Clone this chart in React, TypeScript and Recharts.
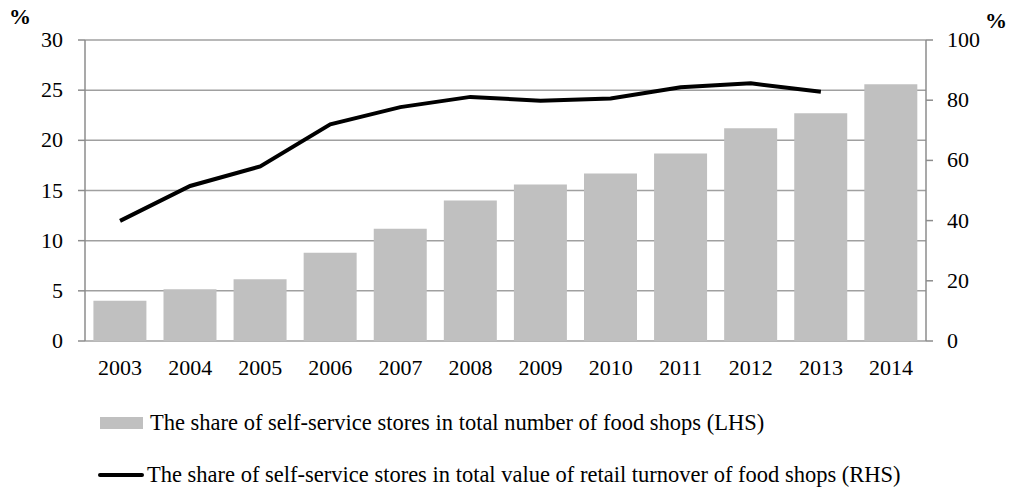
import React from 'react';
import { ComposedChart, Bar, Line, XAxis, YAxis, CartesianGrid } from 'recharts';

const years = ['2003', '2004', '2005', '2006', '2007', '2008', '2009', '2010', '2011', '2012', '2013', '2014'];
const shareNumber = [4.0, 5.15, 6.15, 8.8, 11.2, 14.0, 15.6, 16.7, 18.7, 21.2, 22.7, 25.6];
const shareTurnover: (number | null)[] = [39.9, 51.5, 58.0, 72.0, 77.7, 81.1, 79.8, 80.6, 84.3, 85.6, 82.8, null];
const leftTicks = [0, 5, 10, 15, 20, 25, 30];
const rightTicks = [0, 20, 40, 60, 80, 100];
const boundaryTicks = [0, 1, 2, 3, 4, 5, 6, 7, 8, 9, 10, 11, 12];
const legendBar = 'The share of self-service stores in total number of food shops (LHS)';
const legendLine = 'The share of self-service stores in total value of retail turnover of food shops (RHS)';

const data = years.map((y, i) => ({ year: y, bar: shareNumber[i], line: shareTurnover[i] }));

const FONT = "'Liberation Serif', 'Times New Roman', serif";
const AXIS = '#8c8c8c';
const FS = 22;

const makeTick = (anchor: 'start' | 'middle' | 'end', dy: number) => (props: any) => {
  const { x, y, payload } = props;
  return (
    <text
      x={x}
      y={y}
      dy={dy}
      textAnchor={anchor}
      fill="#000"
      style={{ fontFamily: FONT, fontSize: FS }}
    >
      {payload.value}
    </text>
  );
};

const xTick = makeTick('middle', 19);
const leftTick = makeTick('end', 7);
const rightTick = makeTick('start', 7);

export default function App() {
  return (
    <div style={{ position: 'absolute', left: 0, top: 0, width: 1012, height: 488, background: '#fff', fontFamily: FONT }}>
      <ComposedChart
        width={1012}
        height={400}
        data={data}
        margin={{ top: 40, right: 0, bottom: 0, left: 0 }}
        barCategoryGap="12%"
      >
        <CartesianGrid yAxisId="left" xAxisId="cat" vertical={false} stroke="#a0a0a0" strokeWidth={1.5} />
        <XAxis
          xAxisId="grid"
          type="number"
          domain={[0, 12]}
          ticks={boundaryTicks}
          tick={false}
          height={0}
          axisLine={{ stroke: AXIS, strokeWidth: 1.5 }}
          tickLine={{ stroke: AXIS, strokeWidth: 1.5 }}
          tickSize={7}
        />
        <XAxis
          xAxisId="cat"
          dataKey="year"
          type="category"
          axisLine={false}
          tickLine={false}
          tickSize={7}
          tickMargin={8}
          height={59}
          tick={xTick}
          interval={0}
        />
        <YAxis
          yAxisId="left"
          orientation="left"
          domain={[0, 30]}
          ticks={leftTicks}
          width={85}
          tick={leftTick}
          tickSize={7}
          tickMargin={15}
          axisLine={{ stroke: AXIS, strokeWidth: 1.5 }}
          tickLine={{ stroke: AXIS, strokeWidth: 1.5 }}
          interval={0}
        />
        <YAxis
          yAxisId="right"
          orientation="right"
          domain={[0, 100]}
          ticks={rightTicks}
          width={86}
          tick={rightTick}
          tickSize={7}
          tickMargin={14}
          axisLine={{ stroke: AXIS, strokeWidth: 1.5 }}
          tickLine={{ stroke: AXIS, strokeWidth: 1.5 }}
          interval={0}
        />
        <Bar xAxisId="cat" yAxisId="left" dataKey="bar" fill="#c0c0c0" isAnimationActive={false} />
        <Line
          xAxisId="cat"
          yAxisId="right"
          dataKey="line"
          stroke="#000"
          strokeWidth={4}
          dot={false}
          activeDot={false}
          type="linear"
          isAnimationActive={false}
        />
      </ComposedChart>
      <div style={{ position: 'absolute', left: 9, top: 4, fontSize: 22, fontWeight: 'bold', fontFamily: FONT }}>%</div>
      <div style={{ position: 'absolute', left: 985, top: 8, fontSize: 22, fontWeight: 'bold', fontFamily: FONT }}>%</div>
      <div style={{ position: 'absolute', left: 100, top: 410, display: 'flex', alignItems: 'center', fontSize: 22.5, whiteSpace: 'nowrap' }}>
        <span style={{ display: 'inline-block', width: 43, height: 12, background: '#c0c0c0', marginRight: 7 }} />
        <span>{legendBar}</span>
      </div>
      <div style={{ position: 'absolute', left: 98, top: 462, display: 'flex', alignItems: 'center', fontSize: 22.5, whiteSpace: 'nowrap' }}>
        <span style={{ display: 'inline-block', width: 46, height: 4, background: '#000', borderRadius: 2, marginRight: 3 }} />
        <span>{legendLine}</span>
      </div>
    </div>
  );
}
